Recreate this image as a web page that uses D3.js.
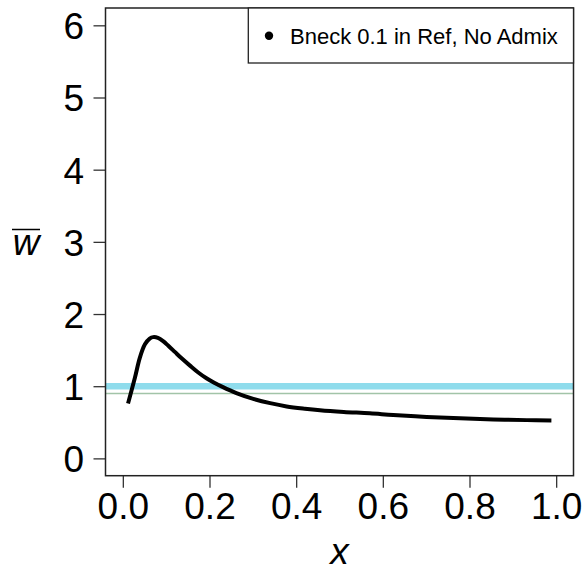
<!DOCTYPE html>
<html>
<head>
<meta charset="utf-8">
<script src="https://cdn.jsdelivr.net/npm/d3@7"></script>
<style>
  body { margin: 0; background: #fff; }
  text { font-family: "Liberation Sans", Arial, Helvetica, sans-serif; }
</style>
</head>
<body>
<svg id="chart" width="586" height="572"></svg>
<script>
// curve
var xVals = [0.012, 0.028, 0.039, 0.051, 0.062, 0.070, 0.081, 0.093, 0.105, 0.120, 0.135, 0.155, 0.174, 0.193, 0.212, 0.230, 0.262, 0.301, 0.340, 0.378, 0.420, 0.455, 0.510, 0.570, 0.624, 0.701, 0.778, 0.855, 0.932, 0.989];
var yVals = [0.76, 1.12, 1.39, 1.58, 1.66, 1.68, 1.67, 1.625, 1.56, 1.475, 1.39, 1.285, 1.19, 1.11, 1.045, 0.99, 0.905, 0.825, 0.765, 0.72, 0.688, 0.667, 0.644, 0.625, 0.601, 0.574, 0.555, 0.540, 0.530, 0.526];
var refLines = [1.0, 0.9];           // blue reference, thin green
var xTicks = [0, 0.2, 0.4, 0.6, 0.8, 1.0];
var yTicks = [0, 1, 2, 3, 4, 5, 6];
var legendLabels = ["Bneck 0.1 in Ref, No Admix"];

var svg = d3.select("#chart");
var margin = {top: 8, right: 12.5, bottom: 96.3, left: 105.5};
var width = 586 - margin.left - margin.right;
var height = 572 - margin.top - margin.bottom;

var g = svg.append("g")
    .attr("transform", "translate(" + margin.left + "," + margin.top + ")");

var x = d3.scaleLinear().domain([-0.04, 1.04]).range([0, width]);
var y = d3.scaleLinear().domain([-0.24, 6.24]).range([height, 0]);

g.append("clipPath").attr("id", "clip")
  .append("rect").attr("width", width).attr("height", height);

var plot = g.append("g").attr("clip-path", "url(#clip)");

// horizontal reference lines
plot.append("line")
    .attr("x1", 0).attr("x2", width)
    .attr("y1", y(refLines[0])).attr("y2", y(refLines[0]))
    .attr("stroke", "#8fdcec")
    .attr("stroke-width", 6.5);

plot.append("line")
    .attr("x1", 0).attr("x2", width)
    .attr("y1", y(refLines[1])).attr("y2", y(refLines[1]))
    .attr("stroke", "#a2c4a8")
    .attr("stroke-width", 1.5);

var data = xVals.map(function(d, i) { return {x: d, y: yVals[i]}; });

var line = d3.line()
    .x(function(d) { return x(d.x); })
    .y(function(d) { return y(d.y); })
    .curve(d3.curveCatmullRom.alpha(0.5));

plot.append("path")
    .datum(data)
    .attr("fill", "none")
    .attr("stroke", "#000")
    .attr("stroke-width", 4)
    .attr("d", line);

// axes
var xAxis = g.append("g")
    .attr("transform", "translate(0," + height + ")")
    .call(d3.axisBottom(x).tickValues(xTicks).tickSize(12).tickFormat(d3.format(".1f")));
xAxis.select(".domain").remove();
xAxis.selectAll("line").attr("stroke", "#333").attr("stroke-width", 1.3);
xAxis.selectAll("text")
    .attr("y", 43).attr("dy", 0)
    .attr("fill", "#000")
    .style("font-size", "37px");

var yAxis = g.append("g")
    .call(d3.axisLeft(y).tickValues(yTicks).tickSize(12).tickPadding(9.5).tickFormat(d3.format("d")));
yAxis.select(".domain").remove();
yAxis.selectAll("line").attr("stroke", "#333").attr("stroke-width", 1.3);
yAxis.selectAll("text")
    .attr("dy", "0.36em")
    .attr("fill", "#000")
    .style("font-size", "37px");

// frame
g.append("rect")
    .attr("width", width).attr("height", height)
    .attr("fill", "none")
    .attr("stroke", "#222")
    .attr("stroke-width", 1.5);

// axis titles
svg.append("text")
    .attr("x", margin.left + width / 2)
    .attr("y", 564)
    .attr("text-anchor", "middle")
    .style("font-size", "37px")
    .style("font-style", "italic")
    .text("x");

svg.append("text")
    .attr("x", 26)
    .attr("y", 255)
    .attr("text-anchor", "middle")
    .style("font-size", "37px")
    .style("font-style", "italic")
    .text("w");
svg.append("line")
    .attr("x1", 12).attr("x2", 40)
    .attr("y1", 229.5).attr("y2", 229.5)
    .attr("stroke", "#000").attr("stroke-width", 1.5);

// legend
var legend = g.append("g");
legend.append("rect")
    .attr("x", 248.3 - margin.left).attr("y", 0)
    .attr("width", width - (248.3 - margin.left)).attr("height", 55)
    .attr("fill", "#fff")
    .attr("stroke", "#222")
    .attr("stroke-width", 1.3);
legend.selectAll("circle")
    .data(legendLabels)
    .enter().append("circle")
    .attr("cx", 269 - margin.left)
    .attr("cy", function(d, i) { return 27.7 + i * 26; })
    .attr("r", 4.2)
    .attr("fill", "#000");
legend.selectAll("text")
    .data(legendLabels)
    .enter().append("text")
    .attr("x", 290 - margin.left)
    .attr("y", function(d, i) { return 36 + i * 26; })
    .style("font-size", "22px")
    .text(function(d) { return d; });
</script>
</body>
</html>
